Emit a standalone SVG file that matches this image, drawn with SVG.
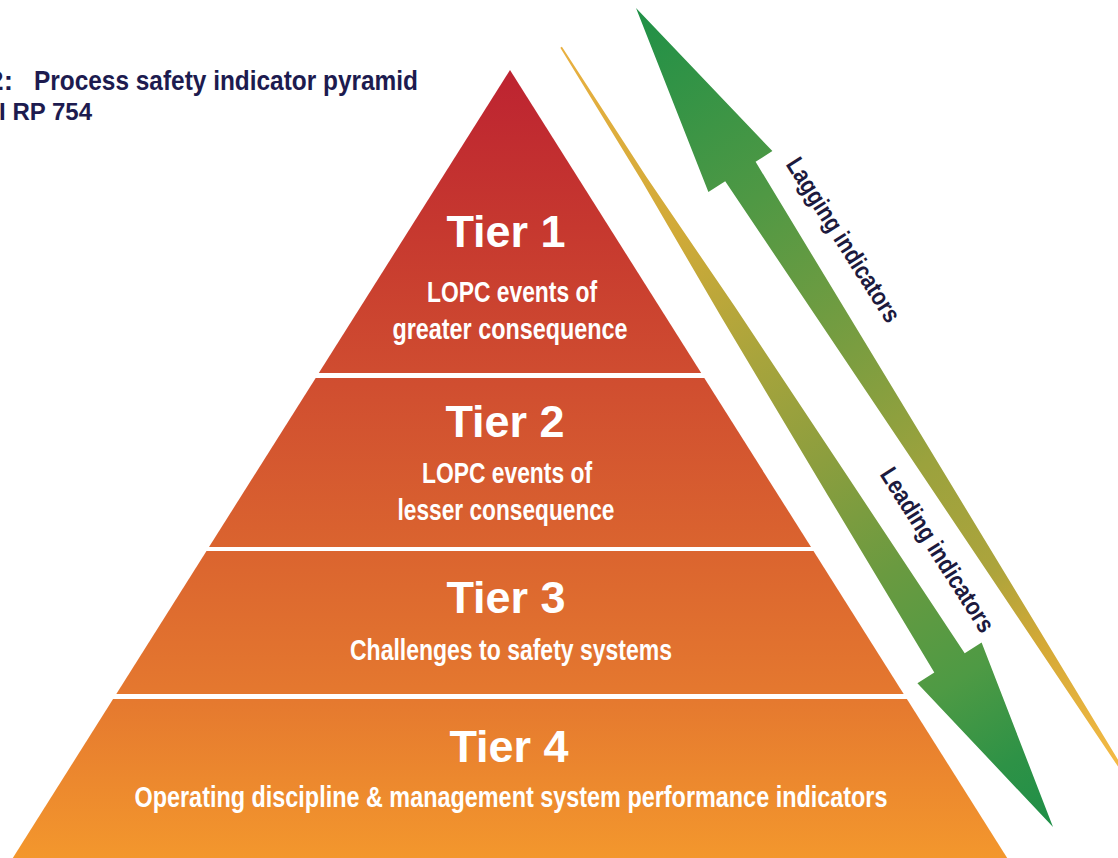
<svg xmlns="http://www.w3.org/2000/svg" width="1118" height="858" viewBox="0 0 1118 858">
<style>
.tier-title{font-family:"Liberation Sans",Arial,sans-serif;font-weight:bold;font-size:45px;fill:#ffffff;text-anchor:middle}
.tier-sub{font-family:"Liberation Sans Narrow","Liberation Sans",Arial,sans-serif;font-weight:bold;font-size:29px;fill:#ffffff;text-anchor:middle}
.caption{font-family:"Liberation Sans Narrow","Liberation Sans",Arial,sans-serif;font-weight:bold;fill:#1d1b4f}
.arrow-label{font-family:"Liberation Sans Narrow","Liberation Sans",Arial,sans-serif;font-weight:bold;font-size:25px;fill:#1c1a3e;text-anchor:middle}
.tier{fill:url(#pyr)}
</style>
<defs>
<linearGradient id="pyr" gradientUnits="userSpaceOnUse" x1="0" y1="70" x2="0" y2="858">
<stop offset="0" stop-color="#bd2331"/>
<stop offset="0.2" stop-color="#c6382f"/>
<stop offset="0.4" stop-color="#d04e30"/>
<stop offset="0.6" stop-color="#da632f"/>
<stop offset="0.8" stop-color="#e5792f"/>
<stop offset="1" stop-color="#f3972d"/>
</linearGradient>
<linearGradient id="gradA" gradientUnits="userSpaceOnUse" x1="636" y1="8" x2="1120" y2="765">
<stop offset="0" stop-color="#1f9047"/>
<stop offset="0.25" stop-color="#4f9844"/>
<stop offset="0.45" stop-color="#7a9d40"/>
<stop offset="0.6" stop-color="#9ba23d"/>
<stop offset="0.74" stop-color="#aca43c"/>
<stop offset="0.84" stop-color="#d4a936"/>
<stop offset="1" stop-color="#f4ba45"/>
</linearGradient>
<linearGradient id="gradB" gradientUnits="userSpaceOnUse" x1="1053" y1="827" x2="561" y2="47">
<stop offset="0" stop-color="#1f8f48"/>
<stop offset="0.085" stop-color="#2e9246"/>
<stop offset="0.19" stop-color="#4e9a44"/>
<stop offset="0.33" stop-color="#6a9a40"/>
<stop offset="0.47" stop-color="#8c9e3e"/>
<stop offset="0.6" stop-color="#a8a43c"/>
<stop offset="0.76" stop-color="#d0aa38"/>
<stop offset="1" stop-color="#e9b040"/>
</linearGradient>
</defs>
<rect width="1118" height="858" fill="#ffffff"/>

<g id="title">
<text class="caption" x="13" y="90" font-size="28" text-anchor="end">2:</text>
<text class="caption" x="34" y="90" font-size="28" textLength="384" lengthAdjust="spacingAndGlyphs">Process safety indicator pyramid</text>
<text class="caption" x="92" y="120" font-size="24" text-anchor="end">API RP 754</text>
</g>

<g id="tier1">
<polygon class="tier" points="510,70 701.2,373 318.8,373"/>
<text class="tier-title" x="506" y="247">Tier 1</text>
<text class="tier-sub" x="512" y="302" textLength="170" lengthAdjust="spacingAndGlyphs">LOPC events of</text>
<text class="tier-sub" x="510" y="339" textLength="235" lengthAdjust="spacingAndGlyphs">greater consequence</text>
</g>

<g id="tier2">
<polygon class="tier" points="315.7,378 704.3,378 811,547 209,547"/>
<text class="tier-title" x="505" y="437">Tier 2</text>
<text class="tier-sub" x="507" y="483" textLength="170" lengthAdjust="spacingAndGlyphs">LOPC events of</text>
<text class="tier-sub" x="506" y="520" textLength="217" lengthAdjust="spacingAndGlyphs">lesser consequence</text>
</g>

<g id="tier3">
<polygon class="tier" points="206.5,551 813.5,551 903.7,694 116.3,694"/>
<text class="tier-title" x="506" y="613">Tier 3</text>
<text class="tier-sub" x="511" y="660" textLength="322" lengthAdjust="spacingAndGlyphs">Challenges to safety systems</text>
</g>

<g id="tier4">
<polygon class="tier" points="113.1,699 906.9,699 1007.2,858 12.8,858"/>
<text class="tier-title" x="509" y="762">Tier 4</text>
<text class="tier-sub" x="511" y="807" textLength="753" lengthAdjust="spacingAndGlyphs">Operating discipline &amp; management system performance indicators</text>
</g>

<g id="connectors">
<g id="lagging-arrow">
<polygon fill="url(#gradA)" points="636,8 772.4,151.1 755.6,161.8 1160,829.1 725.2,181.2 708.4,191.9"/>
<text class="arrow-label" transform="translate(843,240) rotate(57.5)" x="0" y="8" textLength="190" lengthAdjust="spacingAndGlyphs">Lagging indicators</text>
</g>
<g id="leading-arrow">
<polygon fill="url(#gradB)" points="1053,827 917.4,683.2 934.3,672.5 828.2,495.9 720.4,315.6 641.3,179.9 560.3,47.7 561.9,46.7 646.3,176.7 734.8,306.6 851,481.5 964.7,653.3 981.6,642.6"/>
<text class="arrow-label" transform="translate(937,550) rotate(57.5)" x="0" y="8" textLength="190" lengthAdjust="spacingAndGlyphs">Leading indicators</text>
</g>
</g>
</svg>
